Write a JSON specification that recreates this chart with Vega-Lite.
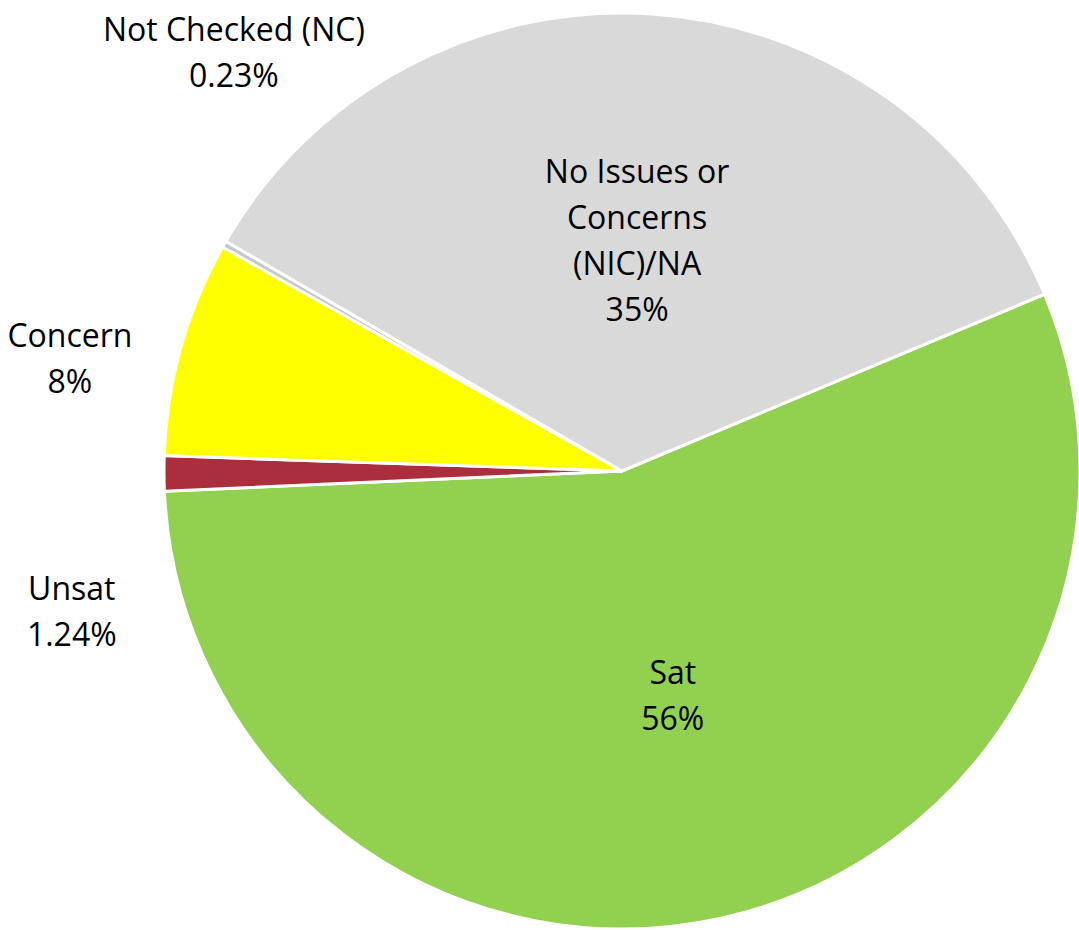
{
  "$schema": "https://vega.github.io/schema/vega-lite/v6.json",
  "width": 914,
  "height": 916,
  "autosize": {"type": "none"},
  "padding": {"left": 165, "top": 13, "right": 0, "bottom": 1},
  "background": "white",
  "config": {"view": {"stroke": null}, "font": "Open Sans"},
  "data": {
    "values": [
      {"category": "Sat", "value": 55.6, "label": "Sat\n56%", "order": 1},
      {"category": "Unsat", "value": 1.24, "label": "Unsat\n1.24%", "order": 2},
      {"category": "Concern", "value": 7.6, "label": "Concern\n8%", "order": 3},
      {"category": "Not Checked (NC)", "value": 0.23, "label": "Not Checked (NC)\n0.23%", "order": 4},
      {"category": "No Issues or Concerns (NIC)/NA", "value": 35.33, "label": "No Issues or\nConcerns\n(NIC)/NA\n35%", "order": 5}
    ]
  },
  "encoding": {
    "theta": {"field": "value", "type": "quantitative", "stack": true, "scale": {"range": [1.1746, 7.4578]}},
    "order": {"field": "order", "type": "quantitative"}
  },
  "layer": [
    {
      "mark": {"type": "arc", "radius": 458, "stroke": "white", "strokeWidth": 3},
      "encoding": {
        "color": {
          "field": "category",
          "type": "nominal",
          "scale": {
            "domain": ["Sat", "Unsat", "Concern", "Not Checked (NC)", "No Issues or Concerns (NIC)/NA"],
            "range": ["#92D050", "#AB2E3C", "#FFFF00", "#C8C8C8", "#D9D9D9"]
          },
          "legend": null
        }
      }
    },
    {
      "mark": {"type": "text", "radius": 209, "thetaOffset": -0.025, "fontSize": 32, "lineHeight": 46, "lineBreak": "\n", "align": "center", "baseline": "middle", "color": "black"},
      "encoding": {
        "text": {"condition": {"test": "datum.order == 1", "field": "label"}, "value": ""}
      }
    },
    {
      "mark": {"type": "text", "radius": 298, "thetaOffset": -0.014, "fontSize": 32, "lineHeight": 46, "lineBreak": "\n", "align": "center", "baseline": "middle", "color": "black"},
      "encoding": {
        "text": {"condition": {"test": "datum.order == 5", "field": "label"}, "value": ""}
      }
    },
    {
      "mark": {"type": "text", "radius": 587, "thetaOffset": 0.33, "fontSize": 32, "lineHeight": 46, "lineBreak": "\n", "align": "center", "baseline": "middle", "color": "black"},
      "encoding": {
        "text": {"condition": {"test": "datum.order == 4", "field": "label"}, "value": ""}
      }
    },
    {
      "mark": {"type": "text", "radius": 568, "thetaOffset": -0.035, "fontSize": 32, "lineHeight": 46, "lineBreak": "\n", "align": "center", "baseline": "middle", "color": "black"},
      "encoding": {
        "text": {"condition": {"test": "datum.order == 3", "field": "label"}, "value": ""}
      }
    },
    {
      "mark": {"type": "text", "radius": 563, "thetaOffset": -0.208, "fontSize": 32, "lineHeight": 46, "lineBreak": "\n", "align": "center", "baseline": "middle", "color": "black"},
      "encoding": {
        "text": {"condition": {"test": "datum.order == 2", "field": "label"}, "value": ""}
      }
    }
  ]
}
